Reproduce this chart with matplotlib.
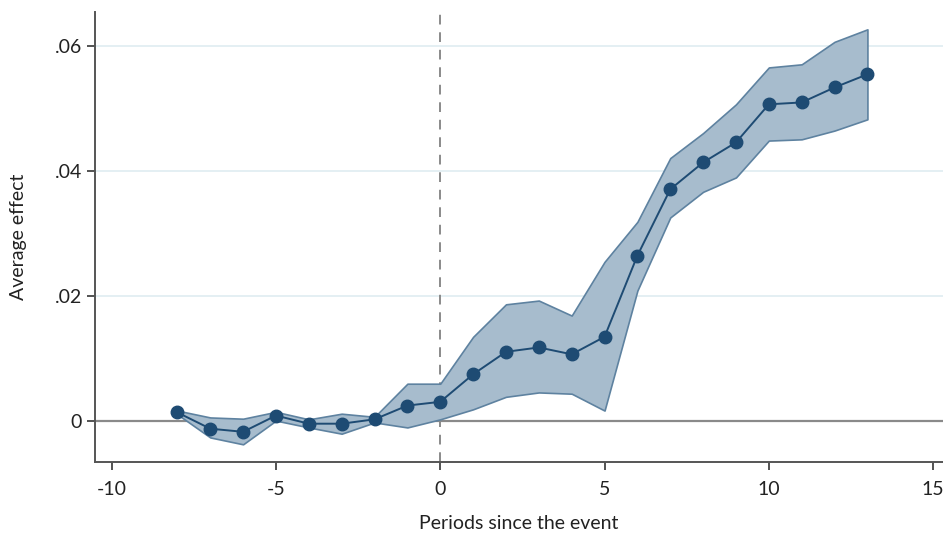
import matplotlib
matplotlib.use("Agg")
import matplotlib.pyplot as plt
import numpy as np

# ── Data ──────────────────────────────────────────────────────────────────────
periods = [-8, -7, -6, -5, -4, -3, -2, -1, 0, 1, 2, 3, 4, 5, 6, 7, 8, 9, 10, 11, 12, 13]
effect = [0.0013, -0.0013, -0.0018, 0.0008, -0.0005, -0.0005, 0.0002, 0.0024,
          0.0030, 0.0074, 0.0110, 0.0117, 0.0106, 0.0134, 0.0264, 0.0370,
          0.0413, 0.0445, 0.0506, 0.0509, 0.0533, 0.0554]
ci_upper = [0.0016, 0.0005, 0.0003, 0.0014, 0.0002, 0.0011, 0.0006, 0.0059,
            0.0059, 0.0134, 0.0186, 0.0192, 0.0168, 0.0254, 0.0318, 0.0420,
            0.0460, 0.0506, 0.0565, 0.0570, 0.0606, 0.0626]
ci_lower = [0.0010, -0.0027, -0.0038, 0.0000, -0.0011, -0.0021, -0.0003, -0.0011,
            0.0002, 0.0018, 0.0038, 0.0045, 0.0043, 0.0016, 0.0208, 0.0325,
            0.0366, 0.0389, 0.0448, 0.0450, 0.0464, 0.0482]
x_ticks = [-10, -5, 0, 5, 10, 15]
y_ticks = [0, 0.02, 0.04, 0.06]
y_tick_labels = ["0", ".02", ".04", ".06"]

plt.rcParams["font.family"] = ["Lato", "DejaVu Sans"]
plt.rcParams["axes.unicode_minus"] = False

fig = plt.figure(figsize=(9.43, 5.37), dpi=100)
ax = fig.add_axes([0.101, 0.140, 0.899, 0.838])

for y in y_ticks[1:]:
    ax.axhline(y, color="#e2eef2", lw=1.3, zorder=0)
ax.axhline(0, color="#8a8a8a", lw=1.6, zorder=1)
ax.axvline(0, color="#8a8a8a", lw=1.4, ls=(0, (5, 4)), zorder=1)

ax.fill_between(periods, ci_lower, ci_upper, facecolor="#a7bccd",
                edgecolor="#5e82a0", lw=1.2, zorder=2)
ax.plot(periods, effect, "-o", color="#1e4b73", lw=1.4, ms=9, zorder=3)

ax.set_xlim(-10.5, 15.3)
ax.set_ylim(-0.0066, 0.0654)
ax.set_xticks(x_ticks)
ax.set_yticks(y_ticks)
ax.set_yticklabels(y_tick_labels)
ax.tick_params(axis="both", colors="#444444", labelcolor="#222222",
               labelsize=14, length=6, width=1.3)
ax.tick_params(axis="x", pad=8)
for side in ("top", "right"):
    ax.spines[side].set_visible(False)
for side in ("left", "bottom"):
    ax.spines[side].set_color("#555555")
    ax.spines[side].set_linewidth(1.4)

ax.set_xlabel("Periods since the event", fontsize=14, color="#222222", labelpad=12)
ax.set_ylabel("Average effect", fontsize=14, color="#222222", labelpad=20)

fig.savefig("out.png", dpi=100)
